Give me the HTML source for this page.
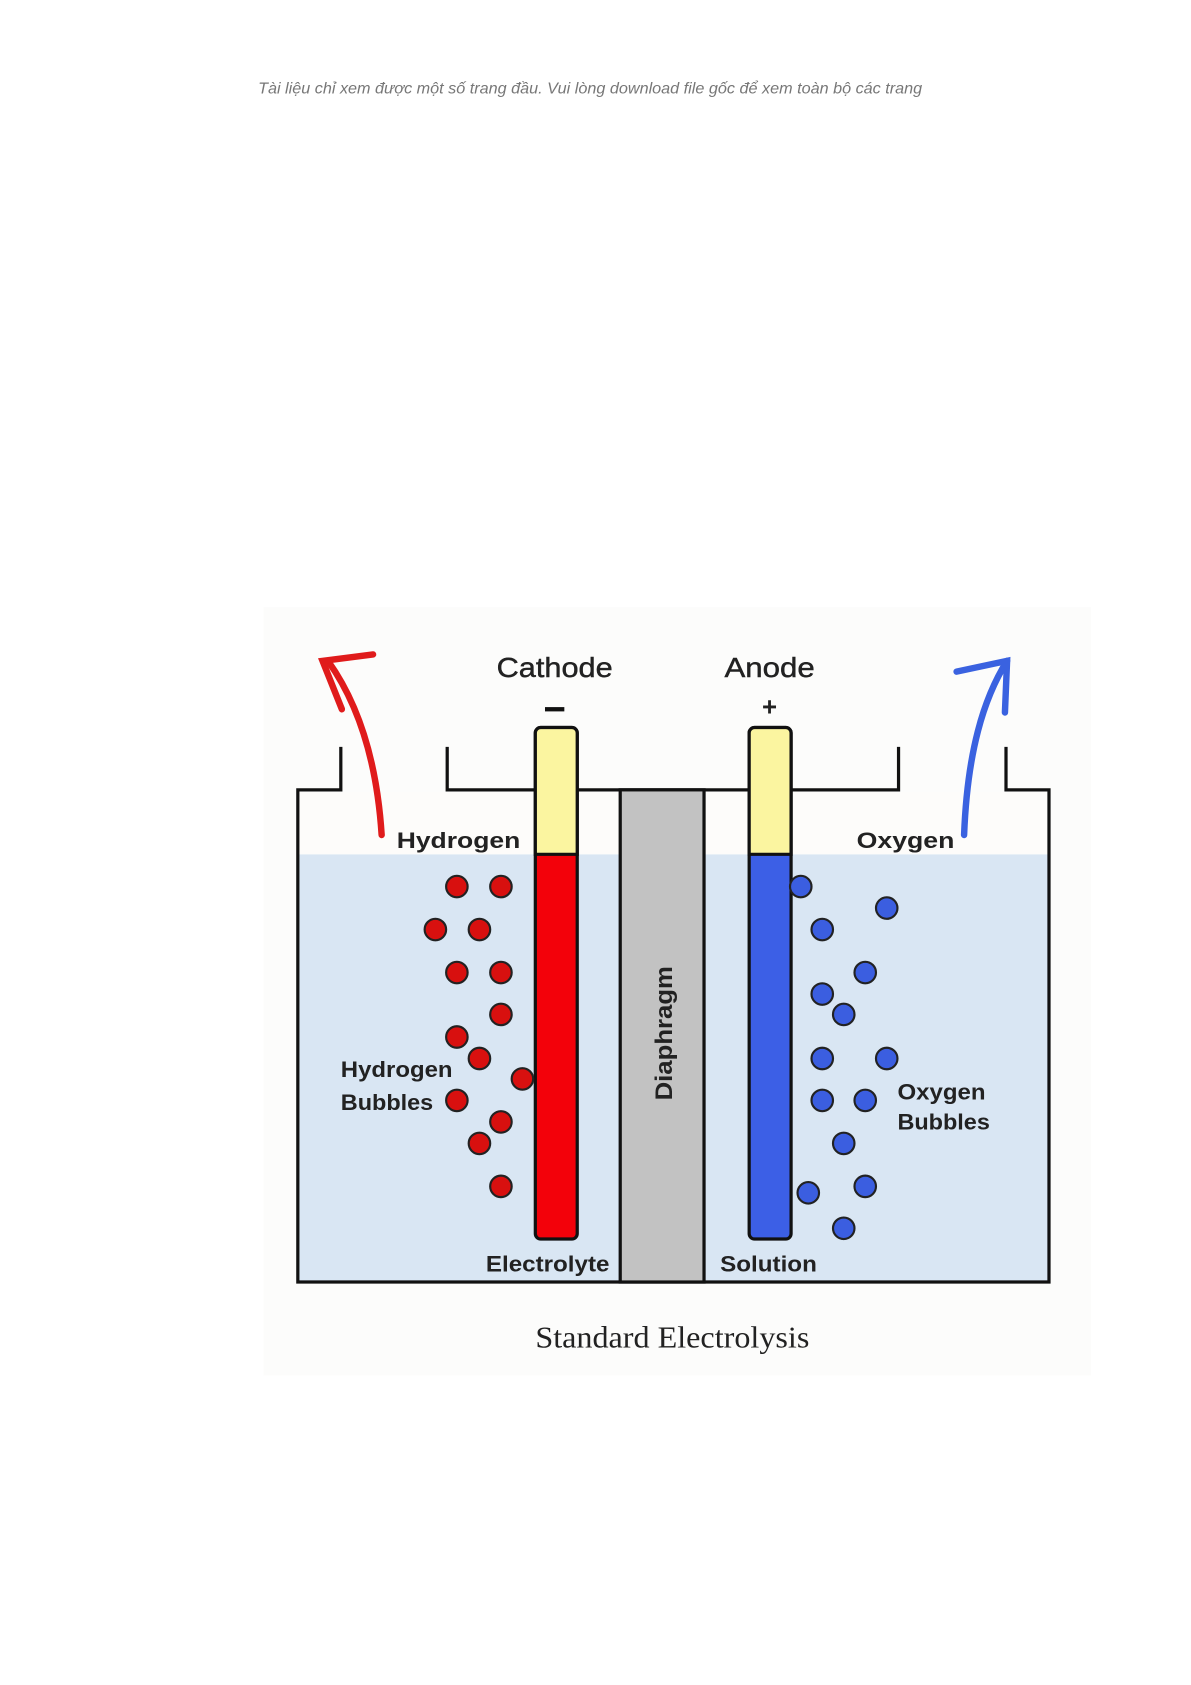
<!DOCTYPE html>
<html><head><meta charset="utf-8"><style>
html,body{margin:0;padding:0;background:#fff;}
svg{display:block;}
</style></head><body>
<svg width="1191" height="1685" viewBox="0 0 1108 1568" xmlns="http://www.w3.org/2000/svg">
<rect width="1108" height="1568" fill="#fff"/>
<text x="240" y="87" textLength="618" lengthAdjust="spacingAndGlyphs" font-family="Liberation Sans, sans-serif" font-style="italic" font-size="14.5" fill="#777">Tài liệu chỉ xem được một số trang đầu. Vui lòng download file gốc để xem toàn bộ các trang</text>
<rect x="245" y="565" width="770" height="715" fill="#fcfcfb"/>
<rect x="278" y="795" width="697" height="397" fill="#d9e6f3"/>
<rect x="278" y="737" width="697" height="58" fill="#fdfcfa"/>
<g fill="none" stroke="#111" stroke-width="3">
<polyline points="317,695 317,735 277,735 277,1193 976,1193 976,735 936,735 936,695"/>
<polyline points="416,695 416,735 836,735 836,695"/>
</g>
<rect x="577" y="735" width="78" height="458" fill="#c2c2c2" stroke="#111" stroke-width="3"/>
<text transform="translate(625,962) rotate(-90)" x="-62" textLength="125" lengthAdjust="spacingAndGlyphs" font-family="Liberation Sans, sans-serif" font-weight="bold" font-size="22" fill="#222">Diaphragm</text>
<g stroke="#111" stroke-width="3">
<rect x="498" y="677" width="39" height="476" rx="5" fill="#f3010a"/>
<path d="M498,795 V682 a5,5 0 0 1 5,-5 h29 a5,5 0 0 1 5,5 V795 Z" fill="#fbf5a0"/>
<rect x="697" y="677" width="39" height="476" rx="5" fill="#3c5fe6"/>
<path d="M697,795 V682 a5,5 0 0 1 5,-5 h29 a5,5 0 0 1 5,5 V795 Z" fill="#fbf5a0"/>
</g>
<g font-family="Liberation Sans, sans-serif" fill="#222">
<text x="462" y="630" textLength="108" lengthAdjust="spacingAndGlyphs" font-size="26" stroke="#222" stroke-width="0.4">Cathode</text>
<text x="674" y="630" textLength="84" lengthAdjust="spacingAndGlyphs" font-size="26" stroke="#222" stroke-width="0.4">Anode</text>
<rect x="507" y="658" width="18" height="4" fill="#111"/>
<text x="716" y="666" text-anchor="middle" font-size="24" font-weight="bold">+</text>
<g font-weight="bold" font-size="21">
<text x="369" y="789" textLength="115" lengthAdjust="spacingAndGlyphs">Hydrogen</text>
<text x="797" y="789" textLength="91" lengthAdjust="spacingAndGlyphs">Oxygen</text>
<text x="317" y="1002" textLength="104" lengthAdjust="spacingAndGlyphs">Hydrogen</text>
<text x="317" y="1033" textLength="86" lengthAdjust="spacingAndGlyphs">Bubbles</text>
<text x="835" y="1023" textLength="82" lengthAdjust="spacingAndGlyphs">Oxygen</text>
<text x="835" y="1051" textLength="86" lengthAdjust="spacingAndGlyphs">Bubbles</text>
<text x="452" y="1183" textLength="115" lengthAdjust="spacingAndGlyphs">Electrolyte</text>
<text x="670" y="1183" textLength="90" lengthAdjust="spacingAndGlyphs">Solution</text>
</g>
</g>
<g fill="none" stroke-width="6" stroke-linecap="round">
<path d="M355,777 C350,700 330,650 305,615" stroke="#e01b1b"/>
<path d="M347,609 L300,615 L318,660" stroke="#e01b1b"/>
<path d="M897,777 C900,700 915,650 937,615" stroke="#3a62e0"/>
<path d="M890,625 L937,615 L935,663" stroke="#3a62e0"/>
</g>
<g fill="#d8100f" stroke="#222" stroke-width="2">
<circle cx="425" cy="825" r="10"/><circle cx="466" cy="825" r="10"/>
<circle cx="405" cy="865" r="10"/><circle cx="446" cy="865" r="10"/>
<circle cx="425" cy="905" r="10"/><circle cx="466" cy="905" r="10"/>
<circle cx="466" cy="944" r="10"/><circle cx="425" cy="965" r="10"/>
<circle cx="446" cy="985" r="10"/><circle cx="486" cy="1004" r="10"/>
<circle cx="425" cy="1024" r="10"/><circle cx="466" cy="1044" r="10"/>
<circle cx="446" cy="1064" r="10"/><circle cx="466" cy="1104" r="10"/>
</g>
<g fill="#3b5ee0" stroke="#222" stroke-width="2">
<circle cx="745" cy="825" r="10"/><circle cx="825" cy="845" r="10"/>
<circle cx="765" cy="865" r="10"/><circle cx="805" cy="905" r="10"/>
<circle cx="765" cy="925" r="10"/><circle cx="785" cy="944" r="10"/>
<circle cx="765" cy="985" r="10"/><circle cx="825" cy="985" r="10"/>
<circle cx="765" cy="1024" r="10"/><circle cx="805" cy="1024" r="10"/>
<circle cx="785" cy="1064" r="10"/><circle cx="752" cy="1110" r="10"/>
<circle cx="805" cy="1104" r="10"/><circle cx="785" cy="1143" r="10"/>
</g>
<text x="498" y="1254" textLength="255" lengthAdjust="spacingAndGlyphs" font-family="Liberation Serif, serif" font-size="29" fill="#222">Standard Electrolysis</text>
</svg>
</body></html>
